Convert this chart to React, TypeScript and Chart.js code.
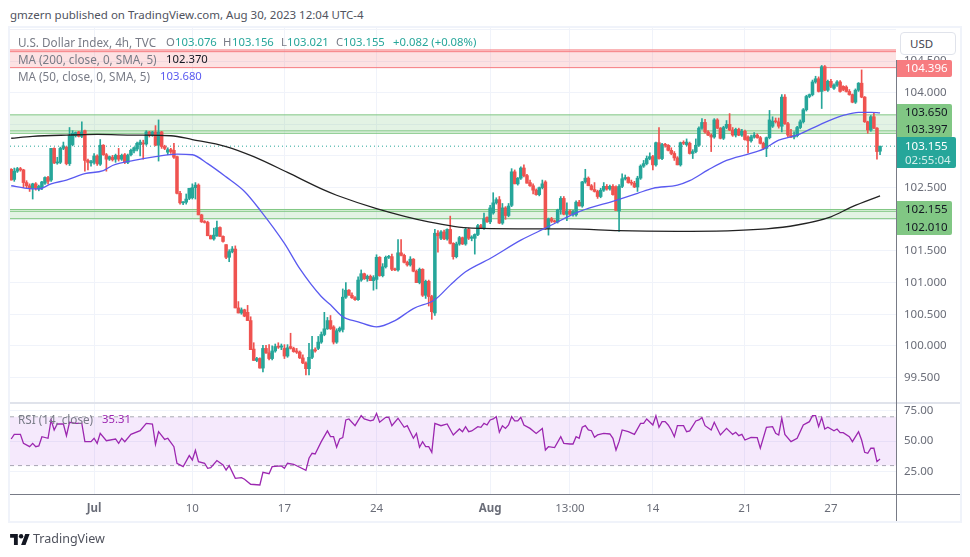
import { useEffect, useRef } from "react"
import { Chart, registerables } from "chart.js"

Chart.register(...registerables)

type Candle = [number, number, number, number]

// open, high, low, close per 4h bar
const weekJun26: Candle[] = [
  [102.79,102.80,102.62,102.62],[102.63,102.81,102.60,102.76],[102.76,102.82,102.74,102.80],[102.80,102.82,102.76,102.78],
  [102.78,102.79,102.50,102.58],[102.58,102.61,102.50,102.53],[102.53,102.56,102.44,102.49],[102.49,102.57,102.32,102.56],
  [102.56,102.58,102.46,102.49],[102.48,102.54,102.45,102.52],[102.50,102.60,102.47,102.59],[102.57,102.67,102.55,102.66],
  [102.66,102.68,102.56,102.60],[102.62,103.12,102.60,103.12],[103.12,103.13,102.88,102.89],[102.89,102.98,102.87,102.89],
  [102.90,103.14,102.88,103.12],[103.12,103.22,103.10,103.16],[103.14,103.15,102.86,102.88],[102.88,103.45,102.85,103.32],
  [103.18,103.40,103.16,103.36],[103.32,103.38,103.30,103.37],[103.38,103.39,103.30,103.31],[103.31,103.54,103.29,103.38],
  [103.40,103.41,102.76,102.93],[102.93,102.95,102.78,102.90],[102.89,102.93,102.84,102.91],
]
const weekJul03: Candle[] = [
  [102.90,103.04,102.87,103.00],[103.00,103.02,102.85,102.88],[102.87,103.26,102.85,103.17],[103.17,103.18,103.01,103.02],
  [103.02,103.04,102.76,102.95],[102.95,103.00,102.93,102.99],[102.98,103.01,102.92,102.94],[102.95,103.03,102.90,103.01],
  [103.01,103.12,102.92,102.95],[102.95,103.03,102.93,103.01],[103.02,103.04,102.88,102.90],[102.90,103.03,102.88,103.01],
  [103.02,103.11,103.00,103.09],[103.08,103.14,103.05,103.13],[103.11,103.22,103.08,103.20],[103.18,103.25,103.00,103.22],
  [103.20,103.25,102.95,103.19],[103.19,103.40,103.17,103.38],[103.38,103.39,103.30,103.33],[103.33,103.39,103.31,103.38],
  [103.38,103.48,103.16,103.17],[103.17,103.57,102.92,103.38],[103.38,103.39,103.12,103.15],[103.15,103.17,103.10,103.12],
  [103.06,103.13,103.02,103.10],[103.10,103.12,103.04,103.07],[103.09,103.20,102.96,102.98],[102.99,103.00,102.40,102.41],
  [102.41,102.44,102.24,102.26],[102.26,102.28,102.23,102.27],[102.27,102.40,102.24,102.32],[102.33,102.49,102.31,102.49],
]
const weekJul10: Candle[] = [
  [102.34,102.56,102.32,102.50],[102.50,102.58,102.32,102.54],[102.54,102.56,102.07,102.07],[102.07,102.08,101.95,101.96],
  [101.96,101.98,101.94,101.95],[101.95,101.97,101.74,101.74],[101.74,101.75,101.69,101.69],[101.69,101.86,101.67,101.75],
  [101.74,101.97,101.73,101.87],[101.87,101.88,101.73,101.73],[101.73,101.74,101.64,101.65],[101.60,101.60,101.38,101.40],
  [101.40,101.52,101.33,101.49],[101.49,101.57,101.47,101.53],[101.53,101.58,100.60,100.60],[100.60,100.70,100.52,100.52],
  [100.52,100.60,100.50,100.57],[100.57,100.58,100.46,100.47],[100.53,100.64,100.40,100.40],[100.40,100.46,99.94,99.94],
  [99.95,100.05,99.77,99.77],[99.77,99.82,99.75,99.80],[99.80,99.81,99.65,99.65],[99.65,100.01,99.59,99.96],
  [99.96,100.01,99.88,99.89],[99.89,100.02,99.78,99.80],[99.80,100.00,99.78,99.92],[99.92,100.03,99.90,99.99],
  [99.99,100.05,99.96,99.98],[99.98,100.03,99.94,100.00],
]
const weekJul17: Candle[] = [
  [99.96,100.02,99.80,99.84],[99.84,100.02,99.82,99.97],[99.99,100.20,99.95,99.96],[99.96,99.98,99.90,99.91],
  [99.92,99.96,99.88,99.90],[99.90,99.92,99.80,99.81],[99.81,99.86,99.72,99.73],[99.73,99.75,99.54,99.64],
  [99.64,100.04,99.54,99.82],[99.82,100.15,99.80,99.94],[99.94,99.97,99.90,99.92],[99.96,100.15,99.94,100.06],
  [100.06,100.22,100.04,100.18],[100.18,100.53,100.16,100.27],[100.27,100.45,100.26,100.40],[100.40,100.48,100.26,100.27],
  [100.30,100.32,100.03,100.06],[100.06,100.27,100.04,100.24],[100.24,100.30,100.22,100.28],[100.26,100.90,100.22,100.77],
  [100.77,101.00,100.75,100.88],[100.88,100.89,100.80,100.80],[100.80,100.84,100.75,100.76],[100.76,100.78,100.72,100.73],
  [100.73,101.09,100.72,101.04],[101.04,101.20,101.02,101.14],[101.14,101.15,101.05,101.06],[101.06,101.12,101.02,101.10],
  [101.10,101.12,101.03,101.03],[101.03,101.11,100.88,101.08],
]
const weekJul24: Candle[] = [
  [101.05,101.44,100.90,101.40],[101.40,101.41,101.10,101.11],[101.11,101.30,101.09,101.25],[101.25,101.42,101.23,101.40],
  [101.40,101.43,101.38,101.41],[101.41,101.45,101.19,101.21],[101.21,101.23,101.19,101.20],[101.20,101.68,101.18,101.47],
  [101.47,101.68,101.42,101.43],[101.43,101.45,101.31,101.32],[101.32,101.34,101.26,101.28],[101.28,101.41,101.26,101.37],
  [101.37,101.38,101.17,101.18],[101.18,101.20,101.00,101.00],[101.00,101.23,100.98,101.21],[101.21,101.22,100.78,100.80],
  [100.80,101.04,100.75,101.02],[101.02,101.04,100.63,100.78],[100.78,100.80,100.42,100.54],[100.52,101.84,100.48,101.78],
  [101.78,101.82,101.48,101.74],[101.70,101.82,101.68,101.80],[101.80,101.83,101.68,101.69],[101.69,101.85,101.67,101.84],
  [101.84,102.05,101.61,101.62],[101.62,101.63,101.37,101.41],[101.41,101.64,101.39,101.61],[101.61,101.73,101.59,101.71],
  [101.71,101.72,101.60,101.61],[101.61,101.86,101.59,101.84],
]
const weekJul31: Candle[] = [
  [101.84,101.86,101.68,101.70],[101.70,101.74,101.66,101.72],[101.70,101.77,101.45,101.76],[101.76,101.92,101.74,101.90],
  [101.90,101.92,101.85,101.86],[101.86,102.10,101.84,102.01],[102.03,102.04,101.95,101.96],[101.96,102.22,101.93,102.18],
  [102.10,102.42,102.08,102.26],[102.26,102.34,102.24,102.31],[102.31,102.36,101.93,101.94],[101.94,102.25,101.92,102.18],
  [102.18,102.20,102.00,102.06],[102.06,102.25,102.04,102.21],[102.22,102.80,102.20,102.75],[102.75,102.78,102.56,102.56],
  [102.56,102.66,102.54,102.65],[102.65,102.83,102.63,102.81],[102.81,102.86,102.67,102.69],[102.69,102.71,102.57,102.57],
  [102.58,102.62,102.52,102.53],[102.53,102.56,102.40,102.46],[102.46,102.48,102.38,102.39],[102.39,102.51,102.37,102.50],
  [102.50,102.62,102.48,102.56],[102.59,102.61,101.84,101.86],[101.86,102.02,101.75,102.01],[102.01,102.03,101.95,101.97],
  [101.97,101.99,101.95,101.96],[101.96,102.16,101.94,102.15],
]
const weekAug07: Candle[] = [
  [102.15,102.36,102.08,102.33],[102.33,102.36,102.07,102.08],[102.08,102.26,101.98,102.13],[102.13,102.15,102.07,102.08],
  [102.08,102.14,102.05,102.12],[102.07,102.29,102.05,102.27],[102.27,102.30,102.21,102.21],[102.21,102.60,102.19,102.59],
  [102.59,102.79,102.57,102.65],[102.65,102.67,102.53,102.53],[102.53,102.55,102.46,102.47],[102.47,102.58,102.43,102.44],
  [102.44,102.46,102.33,102.36],[102.36,102.49,102.34,102.46],[102.46,102.58,102.44,102.52],[102.52,102.55,102.46,102.48],
  [102.48,102.54,102.46,102.52],[102.52,102.55,102.38,102.39],[102.51,102.53,102.14,102.14],[102.13,102.55,101.81,102.52],
  [102.52,102.72,102.50,102.64],[102.64,102.70,102.62,102.66],[102.66,102.67,102.57,102.58],[102.58,102.62,102.54,102.57],
  [102.57,102.60,102.50,102.51],[102.51,102.68,102.44,102.65],[102.65,102.86,102.63,102.84],[102.84,102.93,102.82,102.88],
  [102.88,103.00,102.86,102.96],[102.96,103.05,102.94,102.99],
]
const weekAug14: Candle[] = [
  [102.99,103.01,102.78,102.86],[102.86,103.22,102.84,103.21],[103.21,103.45,102.95,102.96],[102.96,103.20,102.94,103.18],
  [103.18,103.20,103.14,103.17],[103.17,103.18,103.08,103.09],[103.09,103.13,103.02,103.04],[103.04,103.07,102.93,102.97],
  [102.97,102.99,102.86,102.86],[102.86,103.22,102.84,103.21],[103.21,103.24,103.18,103.20],[103.18,103.27,103.16,103.22],
  [103.20,103.22,103.03,103.04],[103.04,103.10,102.96,103.07],[103.07,103.27,103.05,103.17],[103.17,103.46,103.15,103.44],
  [103.44,103.59,103.42,103.53],[103.53,103.58,103.36,103.38],[103.38,103.40,103.32,103.33],[103.33,103.35,103.07,103.30],
  [103.30,103.59,103.28,103.57],[103.57,103.59,103.43,103.44],[103.44,103.45,103.27,103.28],[103.28,103.47,103.26,103.45],
  [103.45,103.56,103.43,103.50],[103.50,103.67,103.40,103.41],[103.41,103.45,103.31,103.33],[103.33,103.44,103.30,103.42],
  [103.42,103.44,103.32,103.33],[103.33,103.42,103.31,103.39],
]
const weekAug21: Candle[] = [
  [103.39,103.41,103.25,103.26],[103.30,103.32,103.05,103.24],[103.24,103.33,103.22,103.30],[103.30,103.37,103.28,103.33],
  [103.33,103.35,103.28,103.29],[103.29,103.31,103.19,103.20],[103.20,103.22,103.10,103.12],[103.12,103.30,102.99,103.29],
  [103.29,103.72,103.27,103.57],[103.47,103.62,103.45,103.55],[103.55,103.60,103.52,103.54],[103.54,103.60,103.44,103.47],
  [103.47,103.97,103.38,103.93],[103.93,103.97,103.50,103.51],[103.51,103.53,103.30,103.33],[103.33,103.42,103.29,103.30],
  [103.30,103.38,103.27,103.32],[103.32,103.47,103.30,103.45],[103.45,103.57,103.43,103.54],[103.54,103.75,103.52,103.73],
  [103.73,103.96,103.71,103.94],[103.94,103.98,103.92,103.97],[103.97,104.20,103.95,104.17],[104.17,104.26,104.15,104.22],
  [104.22,104.25,104.01,104.02],[104.02,104.43,103.75,104.41],[104.41,104.43,104.03,104.04],[104.04,104.20,104.02,104.18],
]
const weekAug27: Candle[] = [
  [104.18,104.21,104.08,104.10],[104.07,104.14,104.05,104.12],[104.12,104.19,104.10,104.17],[104.17,104.19,104.01,104.02],
  [104.10,104.11,104.03,104.05],[104.09,104.11,104.01,104.02],[104.02,104.05,103.96,103.97],[103.97,103.98,103.84,103.85],
  [103.85,104.06,103.83,104.04],[104.04,104.16,104.02,104.15],[104.15,104.36,103.92,103.93],[103.93,103.94,103.53,103.54],
  [103.54,103.55,103.36,103.41],[103.41,103.64,103.39,103.62],[103.62,103.69,103.43,103.44],[103.44,103.45,102.95,103.07],
  [103.076,103.156,103.021,103.155],
]

// [bar, value]
const ma50Points = [
  [0,102.53],[5,102.49],[9,102.48],[13,102.56],[18,102.62],[24,102.72],[30,102.77],[33,102.85],[40,102.93],[47,102.99],
  [54,103.03],[59,103.02],[64,102.88],[70,102.67],[76,102.44],[81,102.15],[89,101.62],[94,101.22],[101,100.78],[104,100.65],
  [108,100.46],[113,100.38],[119,100.30],[125,100.40],[131,100.59],[138,100.73],[143,100.96],[148,101.17],[156,101.38],
  [166,101.67],[174,101.86],[185,102.12],[197,102.30],[204,102.41],[209,102.49],[217,102.54],[221,102.61],[227,102.78],
  [233,102.93],[240,103.03],[245,103.11],[250,103.25],[256,103.33],[261,103.44],[267,103.57],[271,103.64],[276,103.69],
  [280,103.69],[283,103.68],
]
const ma200Points = [
  [0,103.28],[7,103.31],[18,103.33],[28,103.34],[40,103.33],[52,103.32],[59,103.26],[70,103.15],[79,102.99],[90,102.74],
  [102,102.46],[106,102.38],[119,102.17],[136,101.96],[150,101.86],[165,101.85],[182,101.85],[198,101.82],[217,101.81],
  [246,101.85],[256,101.91],[267,102.04],[274,102.20],[283,102.37],
]
const rsiToMidJuly = [
  [0,51.8],[1,55.6],[3,55.6],[4,48.2],[6,45.5],[7,48.2],[8,45.5],[9,46.1],[10,53.7],[12,52.4],[13,67.4],[14,59.2],[15,64.1],
  [17,64.1],[18,54.5],[19,65.5],[21,64.6],[23,64.6],[24,49.6],[26,49.6],[27,52.4],[28,48.2],[29,56.4],[31,50.4],[34,51.8],
  [35,48.2],[36,52.4],[37,49.6],[39,55.6],[42,58.6],[44,64.6],[46,64.1],[47,47.4],[48,57.8],[50,51.5],[51,52.4],[53,45.5],
  [54,31.9],[56,29.1],[58,38.2],[59,34.6],[60,42.5],[61,33.2],[63,31.9],[64,27.8],[65,28.3],[67,34.1],[69,30.5],[70,26.4],
  [71,30.0],[73,19.6],[75,20.1],[76,18.8],[78,14.7],[81,14.1],[82,24.5],[84,23.4],[85,29.1],[88,29.7],[89,27.8],[90,31.9],
  [92,31.1],[96,26.1],[97,36.0],[98,40.1],[99,39.5],[101,49.6],[103,58.4],[104,53.7],[105,53.7],[106,45.0],[107,51.8],
]
const rsiToAugust = [
  [108,52.9],[109,67.4],[110,68.2],[112,62.7],[114,70.9],[115,68.2],[117,66.6],[118,67.4],[119,72.8],[120,65.5],[122,69.6],
  [123,69.6],[124,62.7],[126,68.8],[128,61.4],[129,62.7],[131,52.4],[132,56.4],[133,45.0],[134,49.6],[135,45.5],[136,45.5],
  [137,40.9],[138,64.6],[140,62.7],[142,64.1],[144,55.1],[146,60.0],[147,57.8],[148,61.9],[149,57.8],[150,58.4],[152,61.9],
  [153,61.4],[154,64.6],[155,63.3],[156,67.4],[157,68.2],[158,70.1],[159,57.3],[160,62.7],[161,60.5],[162,63.3],[163,70.1],
  [164,66.6],[165,66.6],[166,69.6],[167,63.3],[169,60.5],[171,56.4],[173,60.5],[174,42.8],[175,45.5],[177,44.7],[179,53.7],
  [180,48.2],[182,47.7],[183,47.7],[184,53.7],[185,52.4],[186,61.4],[187,62.7],[188,59.2],[189,58.6],[190,53.2],[191,55.1],
  [193,56.4],[195,55.9],[196,52.4],[197,42.8],[198,49.6],[199,59.2],[201,57.8],[203,55.6],[205,64.6],[206,64.6],[207,68.2],
]
const rsiToEnd = [
  [209,63.3],[210,70.9],[211,61.4],[212,66.0],[213,66.0],[214,63.3],[215,59.2],[216,53.7],[217,62.7],[219,62.7],[220,57.8],
  [221,58.4],[223,66.6],[224,67.4],[225,69.3],[226,62.7],[228,59.2],[229,65.5],[231,55.1],[233,60.5],[235,55.6],[236,57.3],
  [237,54.5],[238,55.6],[239,51.0],[241,53.2],[243,52.9],[244,44.2],[246,61.4],[248,61.9],[249,56.4],[250,55.1],[251,68.8],
  [252,55.6],[254,49.6],[256,52.4],[258,63.3],[260,66.0],[261,70.9],[262,70.9],[263,61.9],[264,69.3],[265,60.0],[266,61.4],
  [268,58.6],[269,60.0],[270,57.0],[271,57.0],[273,53.7],[274,49.6],[276,57.8],[277,51.0],[278,40.9],[279,40.1],[280,44.2],
  [281,44.2],[282,33.2],[283,35.31],
]

const priceTicks = [105, 104.5, 104, 103.5, 103, 102.5, 102, 101.5, 101, 100.5, 100, 99.5]
const rsiTicks = [75, 50, 25]
const timeBars = [27, 59, 89, 119, 156, 182, 209, 239, 267]
const timeLabels = ["Jul", "10", "17", "24", "Aug", "13:00", "14", "21", "27"]

const redZone = [104.675, 104.648, 104.396]
const upperGreenZone = [103.65, 103.397, 103.358]
const lowerGreenZone = [102.155, 102.126, 102.01]
const rsiBounds = [70, 30]
const lastClose = 103.155

const FONT = "'Noto Sans', sans-serif"
const UP = "#26a69a"
const DOWN = "#ef5350"
const GRID = "#f0f3fa"
const TEXT = "#6a6d78"
const RED_LINE = "#f77c80"
const GREEN_LINE = "#81c784"

const xMin = -0.39
const xMax = 288.2

const candles = [
  ...weekJun26, ...weekJul03, ...weekJul10, ...weekJul17, ...weekJul24,
  ...weekJul31, ...weekAug07, ...weekAug14, ...weekAug21, ...weekAug27,
]
const candleColors = candles.map((c) => (c[3] >= c[0] ? UP : DOWN))

const toXY = (points: number[][]) => points.map((p) => ({ x: p[0], y: p[1] }))

const hLine = (value: number, color: string, yAxisID = "y", extra: object = {}) => ({
  type: "line" as const,
  data: [{ x: xMin, y: value }, { x: xMax, y: value }],
  yAxisID,
  borderColor: color,
  borderWidth: 1,
  pointRadius: 0,
  order: 5,
  ...extra,
})

// separators and the price axis line
const paneLines = {
  id: "paneLines",
  afterDraw(chart: Chart) {
    const { ctx } = chart
    ctx.save()
    ctx.strokeStyle = "#e0e3eb"
    ctx.lineWidth = 2
    ctx.beginPath()
    ctx.moveTo(10, 403)
    ctx.lineTo(960, 403)
    ctx.stroke()
    ctx.strokeStyle = "#787b86"
    ctx.lineWidth = 1
    ctx.beginPath()
    ctx.moveTo(10, 494.5)
    ctx.lineTo(960, 494.5)
    ctx.moveTo(896.5, 60)
    ctx.lineTo(896.5, 521)
    ctx.stroke()
    ctx.restore()
  },
}

const PriceChart = () => {
  const canvasRef = useRef<HTMLCanvasElement>(null)

  useEffect(() => {
    if (!canvasRef.current) return
    const chart = new Chart(canvasRef.current, {
      type: "bar",
      plugins: [paneLines],
      data: {
        datasets: [
          hLine(redZone[0], RED_LINE, "y", { fill: "+2", backgroundColor: "rgba(247,124,128,0.22)" }),
          hLine(redZone[1], RED_LINE),
          hLine(redZone[2], RED_LINE),
          hLine(upperGreenZone[0], GREEN_LINE, "y", { fill: "+2", backgroundColor: "rgba(129,199,132,0.22)" }),
          hLine(upperGreenZone[1], GREEN_LINE),
          hLine(upperGreenZone[2], GREEN_LINE),
          hLine(lowerGreenZone[0], GREEN_LINE, "y", { fill: "+2", backgroundColor: "rgba(129,199,132,0.22)" }),
          hLine(lowerGreenZone[1], GREEN_LINE),
          hLine(lowerGreenZone[2], GREEN_LINE),
          hLine(lastClose, UP, "y", { borderDash: [1, 3] }),
          hLine(rsiBounds[0], "#a9abb3", "yRsi", { borderDash: [4, 4], fill: "+1", backgroundColor: "rgba(156,39,230,0.1)" }),
          hLine(rsiBounds[1], "#a9abb3", "yRsi", { borderDash: [4, 4] }),
          {
            data: candles.map((c, i) => ({ x: i, y: [c[2], c[1]] })),
            yAxisID: "y",
            backgroundColor: candleColors,
            barThickness: 1,
            grouped: false,
            order: 4,
          },
          {
            data: candles.map((c, i) => ({ x: i, y: [c[0], c[3]] })),
            yAxisID: "y",
            backgroundColor: candleColors,
            barThickness: 2.9,
            minBarLength: 1,
            grouped: false,
            order: 3,
          },
          {
            type: "line",
            data: toXY(ma200Points),
            yAxisID: "y",
            borderColor: "#222222",
            borderWidth: 1.3,
            pointRadius: 0,
            cubicInterpolationMode: "monotone",
            order: 2,
          },
          {
            type: "line",
            data: toXY(ma50Points),
            yAxisID: "y",
            borderColor: "#5a5af0",
            borderWidth: 1.3,
            pointRadius: 0,
            cubicInterpolationMode: "monotone",
            order: 1,
          },
          {
            type: "line",
            data: toXY([...rsiToMidJuly, ...rsiToAugust, ...rsiToEnd]),
            yAxisID: "yRsi",
            borderColor: "#9c27b0",
            borderWidth: 1.3,
            pointRadius: 0,
            order: 1,
          },
        ] as any,
      },
      options: {
        animation: false,
        responsive: false,
        events: [],
        layout: { padding: { left: 10, top: 28, right: 0, bottom: 36 } },
        plugins: { legend: { display: false }, tooltip: { enabled: false } },
        scales: {
          x: {
            type: "linear",
            offset: false,
            min: xMin,
            max: xMax,
            afterBuildTicks: (scale) => {
              scale.ticks = timeBars.map((value) => ({ value }))
            },
            afterFit: (scale) => {
              scale.height = 27
              scale.paddingLeft = 0
              scale.paddingRight = 0
            },
            border: { display: false },
            grid: { color: GRID, drawTicks: false, offset: false },
            ticks: {
              autoSkip: false,
              maxRotation: 0,
              padding: 8,
              color: TEXT,
              font: (ctx: any) => ({
                family: FONT,
                size: 11.5,
                weight: ctx.index === 0 || ctx.index === 4 ? "bold" : "normal",
              }),
              callback: (value) => timeLabels[timeBars.indexOf(Number(value))] ?? "",
            },
          },
          y: {
            type: "linear",
            position: "right",
            stack: "panes",
            stackWeight: 375,
            min: 99.098,
            max: 105.022,
            afterBuildTicks: (scale) => {
              scale.ticks = priceTicks.map((value) => ({ value }))
            },
            afterFit: (scale) => {
              scale.width = 74
              scale.paddingTop = 0
              scale.paddingBottom = 0
            },
            border: { display: false },
            grid: { color: GRID, drawTicks: false },
            ticks: {
              padding: 8,
              color: TEXT,
              font: { family: FONT, size: 11.5 },
              callback: (value) => (Number(value) === 105 ? "" : Number(value).toFixed(3)),
            },
          },
          yRsi: {
            type: "linear",
            position: "right",
            stack: "panes",
            stackWeight: 91,
            min: 6.72,
            max: 81.3,
            afterBuildTicks: (scale) => {
              scale.ticks = rsiTicks.map((value) => ({ value }))
            },
            afterFit: (scale) => {
              scale.width = 74
              scale.paddingTop = 0
              scale.paddingBottom = 0
            },
            border: { display: false },
            grid: { color: GRID, drawTicks: false },
            ticks: {
              padding: 8,
              color: TEXT,
              font: { family: FONT, size: 11.5 },
              callback: (value) => Number(value).toFixed(2),
            },
          },
        },
      },
    })
    return () => chart.destroy()
  }, [])

  return <canvas ref={canvasRef} width={970} height={557} style={{ position: "absolute", left: 0, top: 0 }} />
}

const Tag = ({ top, height, width, bg, children }: any) => (
  <div
    style={{
      position: "absolute",
      left: 897,
      top,
      width,
      height,
      background: bg,
      borderRadius: "0 2px 2px 0",
    }}
  >
    {children}
  </div>
)

const TagText = ({ top, color, children }: any) => (
  <div style={{ position: "absolute", left: 8, top, color, lineHeight: "16px", whiteSpace: "nowrap" }}>{children}</div>
)

const Row = ({ top, children }: any) => (
  <div
    style={{
      position: "absolute",
      left: 18,
      top,
      lineHeight: "16px",
      color: "#787b86",
      whiteSpace: "nowrap",
      fontSize: 11.7,
    }}
  >
    {children}
  </div>
)

const At = ({ left, color, children }: any) => (
  <span style={{ position: "absolute", left, color, fontSize: 11.3 }}>{children}</span>
)

export default function App() {
  return (
    <div
      style={{
        position: "absolute",
        left: 0,
        top: 0,
        width: 970,
        height: 557,
        background: "#fff",
        overflow: "hidden",
        fontFamily: FONT,
        fontSize: 11.5,
      }}
    >
      <div style={{ position: "absolute", left: 10, top: 7, lineHeight: "16px", color: "#50535e", whiteSpace: "nowrap" }}>
        gmzern published on TradingView.com, Aug 30, 2023 12:04 UTC-4
      </div>
      <div style={{ position: "absolute", left: 8, top: 26, width: 950, height: 493, border: "2px solid #f0f3fa" }} />
      <PriceChart />

      <Row top={34}>
        <span>U.S. Dollar Index, 4h, TVC</span>
        <At left={148} color="#787b86">O</At>
        <At left={157} color={UP}>103.076</At>
        <At left={205} color="#787b86">H</At>
        <At left={214} color={UP}>103.156</At>
        <At left={263} color="#787b86">L</At>
        <At left={269} color={UP}>103.021</At>
        <At left={318} color="#787b86">C</At>
        <At left={325} color={UP}>103.155</At>
        <At left={375} color={UP}>+0.082 (+0.08%)</At>
      </Row>
      <Row top={51}>
        <span>MA (200, close, 0, SMA, 5)</span>
        <At left={148} color="#131722">102.370</At>
      </Row>
      <Row top={68}>
        <span>MA (50, close, 0, SMA, 5)</span>
        <At left={142} color="#5a5af0">103.680</At>
      </Row>
      <Row top={411}>
        <span>RSI (14, close)</span>
        <At left={84} color="#9c27b0">35.31</At>
      </Row>

      <div
        style={{
          position: "absolute",
          left: 900,
          top: 32,
          width: 56,
          height: 23,
          border: "1px solid #e0e3eb",
          borderRadius: 4,
          background: "#fff",
          color: "#434651",
          lineHeight: "21px",
          paddingLeft: 9,
          boxSizing: "border-box",
        }}
      >
        USD
      </div>

      <Tag top={60} width={55} height={17} bg={RED_LINE}>
        <TagText top={0} color="#fff">104.396</TagText>
      </Tag>
      <Tag top={104} width={55} height={34} bg={GREEN_LINE}>
        <TagText top={0} color="#131722">103.650</TagText>
        <TagText top={17} color="#131722">103.397</TagText>
      </Tag>
      <Tag top={201} width={55} height={34} bg={GREEN_LINE}>
        <TagText top={0} color="#131722">102.155</TagText>
        <TagText top={18} color="#131722">102.010</TagText>
      </Tag>
      <Tag top={137} width={59} height={31} bg={UP}>
        <TagText top={1} color="#fff">103.155</TagText>
        <TagText top={15} color="#d4efec">02:55:04</TagText>
      </Tag>

      <svg style={{ position: "absolute", left: 10, top: 534 }} width="20" height="11" viewBox="0 0 36 20">
        <path d="M14 20H7V7H0V0h14v20zM28 20h-8L27.5 0h8L28 20z" fill="#131722" />
        <circle cx="20" cy="4" r="4" fill="#131722" />
      </svg>
      <div style={{ position: "absolute", left: 33, top: 530, fontSize: 12.5, lineHeight: "18px", color: "#50535e" }}>TradingView</div>
    </div>
  )
}
